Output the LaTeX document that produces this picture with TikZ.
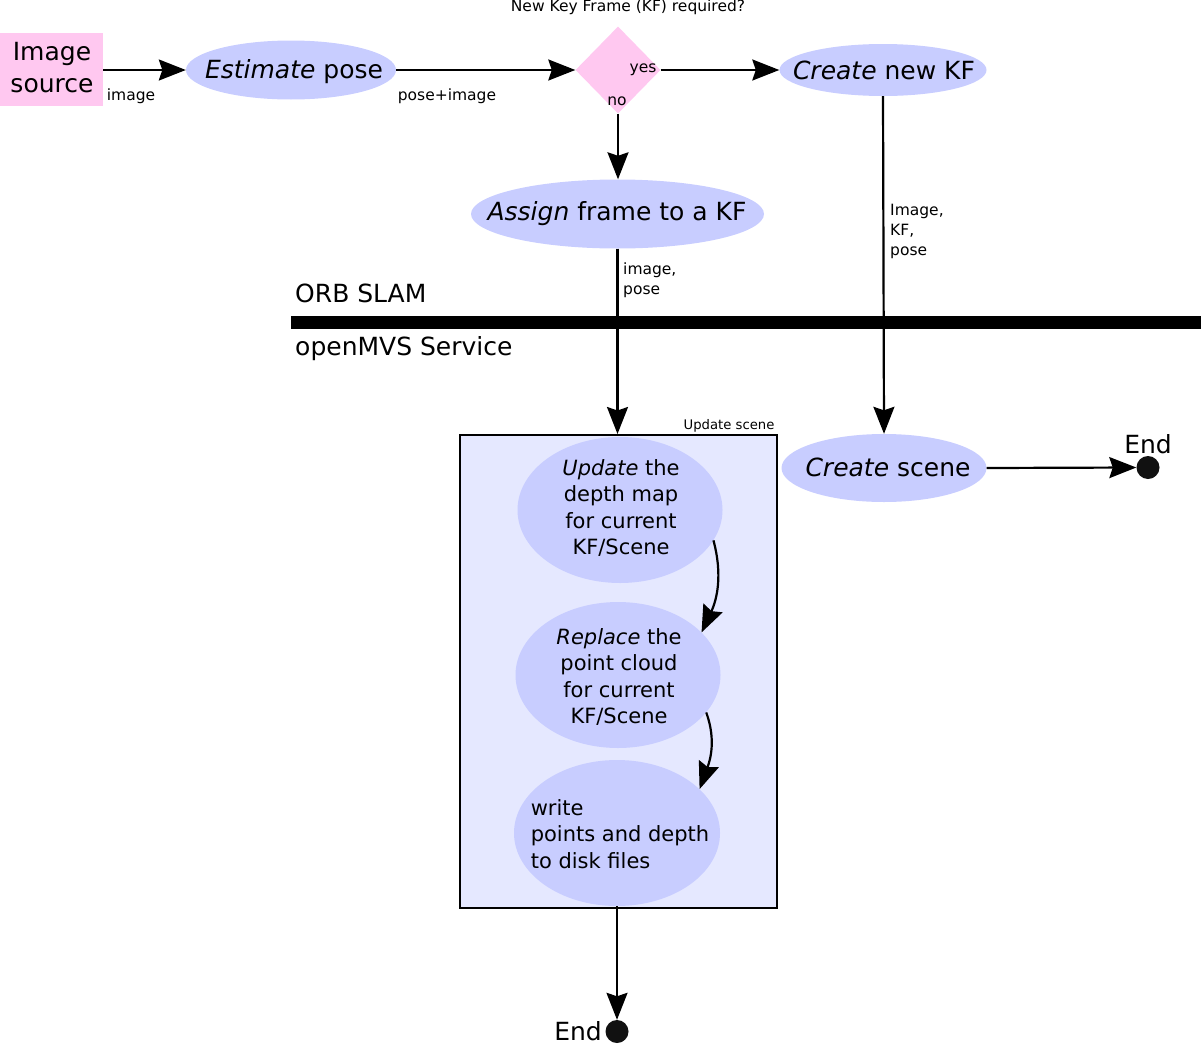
\documentclass[tikz,border=0pt]{standalone}
\usepackage{fontspec}
\setmainfont{DejaVu Sans}
\usetikzlibrary{arrows.meta,shapes.geometric}
\definecolor{ellfill}{RGB}{200,205,255}
\definecolor{pinkfill}{RGB}{255,200,240}
\definecolor{boxfill}{RGB}{229,232,255}
\definecolor{enddot}{RGB}{17,17,17}
\tikzset{
  ell/.style={ellipse, fill=ellfill, draw=none, inner sep=0pt},
  bigtxt/.style={font=\fontsize{25}{26.3}\selectfont, inner sep=0pt, align=center},
  midtxt/.style={font=\fontsize{21}{26.3}\selectfont, inner sep=0pt, align=center},
  smalltxt/.style={font=\fontsize{15.5}{20}\selectfont, inner sep=0pt},
  tinytxt/.style={font=\fontsize{13.2}{15}\selectfont, inner sep=0pt},
  arr/.style={line width=2.2pt, -{Stealth[length=27pt,width=21pt,inset=3.5pt]}},
  enddotstyle/.style={circle, fill=enddot, minimum size=23pt, inner sep=0pt},
}
\begin{document}
\begin{tikzpicture}[x=1pt,y=-1pt]
\useasboundingbox (0,0) rectangle (1201,1044);

% Image source
\node[fill=pinkfill, minimum width=103pt, minimum height=73pt, inner sep=0pt] (src) at (51.5,69.5) {};
\node[bigtxt, font=\fontsize{25}{32}\selectfont] (srcT) at (52,68) {Image\\source};

% Estimate pose
\node[ell, minimum width=210pt, minimum height=59pt] (est) at (291,70) {};
\node[bigtxt] (estT) at (294,72) {\textit{Estimate} pose};

% Diamond
\node[diamond, fill=pinkfill, minimum width=85pt, minimum height=87pt, inner sep=0pt] (dec) at (618,70) {};
\node[smalltxt] (decQ) at (628,7) {New Key Frame (KF) required?};
\node[smalltxt] (yes) at (643,70) {yes};
\node[smalltxt] (no) at (617,101) {no};

% Create new KF
\node[ell, minimum width=207pt, minimum height=52pt] (newkf) at (883,70) {};
\node[bigtxt] (newkfT) at (884,70) {\textit{Create} new KF};

% Assign frame
\node[ell, minimum width=293pt, minimum height=69pt] (assign) at (617.5,214) {};
\node[bigtxt] (assignT) at (617,214) {\textit{Assign} frame to a KF};

% bar and labels
\coordinate (barL) at (291,322.5);
\coordinate (barR) at (1201,322.5);
\draw[line width=13pt] (barL) -- (barR);
\node[bigtxt, anchor=west] (orb) at (295,293) {ORB SLAM};
\node[bigtxt, anchor=west] (mvs) at (295,349) {openMVS Service};

% Update box
\node[draw=black, line width=2pt, fill=boxfill, minimum width=317pt, minimum height=473pt, inner sep=0pt] (updbox) at (618.5,671.5) {};
\node[tinytxt] (updboxT) at (729,426) {Update scene};

\node[ell, minimum width=205pt, minimum height=146pt] (upd) at (620,510) {};
\node[midtxt] (updT) at (621,508) {\textit{Update} the\\depth map\\for current\\KF/Scene};

\node[ell, minimum width=205pt, minimum height=146pt] (repl) at (618,675) {};
\node[midtxt] (replT) at (619,677) {\textit{Replace} the\\point cloud\\for current\\KF/Scene};

\node[ell, minimum width=206pt, minimum height=146pt] (write) at (617,833) {};
\node[midtxt, align=left] (writeT) at (620,834) {write\\points and depth\\to disk files};

% Create scene
\node[ell, minimum width=205pt, minimum height=68pt] (cscene) at (884,468) {};
\node[bigtxt] (csceneT) at (888,467) {\textit{Create} scene};

% End dots
\node[enddotstyle] (end1) at (1148,467.5) {};
\node[font=\fontsize{25}{26.3}\selectfont, inner sep=0pt, anchor=base] (end1T) at (1148,453) {End};
\node[enddotstyle] (end2) at (617,1031.5) {};
\node[font=\fontsize{25}{26.3}\selectfont, inner sep=0pt, anchor=base east] (end2T) at (602,1040) {End};

% Connectors
\draw[arr] (src.east |- est.west) -- (est.west);
\node[smalltxt] (lblimg) at (131,96) {image};
\draw[arr] (est.east) -- (dec.west);
\node[smalltxt] (lblpi) at (447,96) {pose+image};
\draw[arr] (dec.east) -- (newkf.west);
\draw[arr] (dec.south) -- (dec.south |- assign.north);
\draw[arr] (assign.south) -- (assign.south |- updbox.north);
\node[smalltxt, anchor=west, align=left] (lblip) at (623,280) {image,\\pose};
\draw[arr] (newkf.south) -- (cscene.north);
\node[smalltxt, anchor=west, align=left] (lblikp) at (890,231) {Image,\\KF,\\pose};
\draw[arr] (cscene.east) -- (end1.west);
\draw[arr] (write.south) -- (end2.north);

\draw[arr] (upd.-18) to[out=-75, in=65] (repl.27);
\draw[arr] (repl.-23) to[out=-70, in=70] (write.28);
\end{tikzpicture}
\end{document}
